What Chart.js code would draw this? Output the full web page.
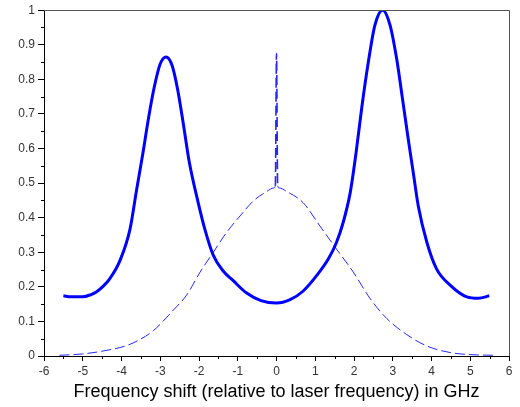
<!DOCTYPE html>
<html>
<head>
<meta charset="utf-8">
<script src="https://cdn.jsdelivr.net/npm/chart.js@4.4.0/dist/chart.umd.min.js"></script>
<style>
    body { margin: 0; background: #fff; }
    canvas { display: block; }
</style>
</head>
<body>
<canvas id="spectrum" width="520" height="407"></canvas>
<script>
// thick curve (measured spectrum)
const thickX = [-5.5, -5.3, -5.0, -4.8, -4.64, -4.47, -4.3, -4.04, -3.78, -3.61, -3.45, -3.3, -3.15, -3.0, -2.85, -2.7, -2.55, -2.4, -2.25, -2.02, -1.85, -1.63, -1.37, -1.11, -0.77, -0.4, 0, 0.35, 0.69, 1.04, 1.34, 1.55, 1.72, 1.9, 2.05, 2.2, 2.37, 2.54, 2.74, 2.93, 3.1, 3.25, 3.4, 3.53, 3.66, 3.88, 4.13, 4.48, 4.91, 5.21, 5.49];
const thickY = [0.174, 0.171, 0.171, 0.177, 0.186, 0.202, 0.224, 0.276, 0.367, 0.481, 0.585, 0.690, 0.780, 0.845, 0.865, 0.842, 0.770, 0.668, 0.560, 0.443, 0.367, 0.291, 0.245, 0.217, 0.182, 0.160, 0.153, 0.163, 0.188, 0.233, 0.281, 0.329, 0.386, 0.471, 0.585, 0.718, 0.850, 0.957, 1.0, 0.957, 0.860, 0.745, 0.627, 0.530, 0.433, 0.329, 0.252, 0.205, 0.171, 0.167, 0.174];

// dashed curve (laser line)
const dashX = [-5.6, -5.0, -4.4, -3.87, -3.52, -3.18, -2.66, -2.32, -1.97, -1.63, -1.29, -0.94, -0.6, -0.25, -0.07, -0.03, 0, 0.03, 0.07, 0.26, 0.69, 1.12, 1.55, 1.98, 2.41, 2.84, 3.36, 3.88, 4.48, 5.0, 5.68];
const dashY = [0.002, 0.006, 0.016, 0.030, 0.048, 0.073, 0.133, 0.176, 0.243, 0.300, 0.357, 0.405, 0.448, 0.476, 0.486, 0.492, 0.875, 0.492, 0.486, 0.476, 0.443, 0.376, 0.309, 0.243, 0.167, 0.109, 0.062, 0.029, 0.010, 0.004, 0.002];

const xTicks = [-6, -5, -4, -3, -2, -1, 0, 1, 2, 3, 4, 5, 6];
const yTicks = [0, 0.1, 0.2, 0.3, 0.4, 0.5, 0.6, 0.7, 0.8, 0.9, 1];
const xTitle = 'Frequency shift (relative to laser frequency) in GHz';

const FONT = '"Liberation Sans", Arial, sans-serif';

function toPoints(xs, ys) {
    return xs.map((x, i) => ({ x: x, y: ys[i] }));
}

// minor ticks + top/right frame
const framePlugin = {
    id: 'frame',
    afterDraw(chart) {
        const ctx = chart.ctx;
        const a = chart.chartArea;
        const xs = chart.scales.x;
        const ys = chart.scales.y;
        ctx.save();
        ctx.strokeStyle = '#000';
        ctx.lineWidth = 1;
        ctx.beginPath();
        for (let i = 0; i < xTicks.length - 1; i++) {
            const px = Math.round(xs.getPixelForValue((xTicks[i] + xTicks[i + 1]) / 2)) + 0.5;
            ctx.moveTo(px, a.bottom);
            ctx.lineTo(px, a.bottom + 3);
        }
        for (let i = 0; i < yTicks.length - 1; i++) {
            const py = Math.round(ys.getPixelForValue((yTicks[i] + yTicks[i + 1]) / 2)) + 0.5;
            ctx.moveTo(a.left, py);
            ctx.lineTo(a.left - 3, py);
        }
        ctx.stroke();
        ctx.strokeStyle = '#555';
        ctx.beginPath();
        ctx.moveTo(a.left, Math.round(a.top) + 0.5);
        ctx.lineTo(Math.round(a.right) + 0.5, Math.round(a.top) + 0.5);
        ctx.lineTo(Math.round(a.right) + 0.5, a.bottom);
        ctx.stroke();
        ctx.restore();
    }
};

const ctx = document.getElementById('spectrum').getContext('2d');
new Chart(ctx, {
    type: 'scatter',
    data: {
        datasets: [{
            data: toPoints(dashX, dashY),
            showLine: true,
            borderColor: 'rgba(0, 0, 255, 0.85)',
            borderWidth: 1,
            borderDash: [10, 4],
            pointRadius: 0,
            cubicInterpolationMode: 'monotone',
            segment: {
                // the narrow laser spike looks heavier in the original
                borderWidth: c => (dashY[c.p0DataIndex] > 0.8 || dashY[c.p1DataIndex] > 0.8) ? 1.6 : 1
            }
        }, {
            data: toPoints(thickX, thickY),
            showLine: true,
            borderColor: '#0000ff',
            borderWidth: 3,
            pointRadius: 0,
            cubicInterpolationMode: 'monotone'
        }]
    },
    options: {
        responsive: false,
        animation: false,
        layout: { padding: { left: 0, right: 11, top: -4, bottom: 4 } },
        plugins: {
            legend: { display: false },
            tooltip: { enabled: false }
        },
        scales: {
            x: {
                type: 'linear',
                min: -6,
                max: 6,
                afterBuildTicks: s => { s.ticks = xTicks.map(v => ({ value: v })); },
                ticks: {
                    color: '#333',
                    font: { family: FONT, size: 12 },
                    padding: 3,
                    maxRotation: 0,
                    callback: v => String(v)
                },
                grid: { drawOnChartArea: false, drawTicks: true, tickLength: 5, color: '#000' },
                border: { color: '#000' },
                title: {
                    display: true,
                    text: xTitle,
                    color: '#000',
                    font: { family: FONT, size: 18 },
                    padding: { top: 0, bottom: 0 }
                }
            },
            y: {
                min: 0,
                max: 1,
                afterBuildTicks: s => { s.ticks = yTicks.map(v => ({ value: v })); },
                afterFit: s => { s.width = 44; },
                ticks: {
                    color: '#333',
                    font: { family: FONT, size: 12 },
                    padding: 3,
                    callback: v => String(Math.round(v * 10) / 10)
                },
                grid: { drawOnChartArea: false, drawTicks: true, tickLength: 6, color: '#000' },
                border: { color: '#000' }
            }
        }
    },
    plugins: [framePlugin]
});
</script>
</body>
</html>
